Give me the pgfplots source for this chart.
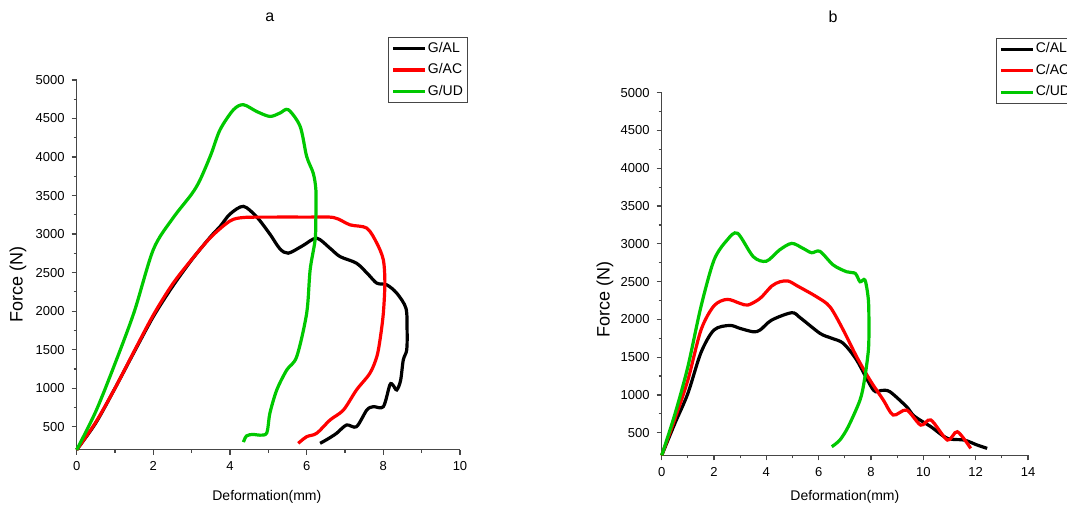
\documentclass[border=0pt]{standalone}
\usepackage{fontspec}
\setmainfont{Liberation Sans}
\usepackage{pgfplots}
\pgfplotsset{compat=1.18}
\definecolor{ogreen}{RGB}{0,200,0}
\definecolor{ored}{RGB}{255,0,0}
\definecolor{axgray}{RGB}{70,70,70}

\pgfplotsset{
  forceplot/.style={
    scale only axis,
    axis lines*=left,
    axis line style={axgray, line width=0.7pt},
    tick style={axgray, line width=0.6pt},
    tick align=outside,
    major tick length=2.5pt,
    minor tick length=1.5pt,
    minor x tick num=1,
    minor y tick num=1,
    ymin=200, ymax=5000,
    ytick={500,1000,...,5000},
    clip=false,
    tick label style={font=\fontsize{6.5}{7}\selectfont},
    /pgf/number format/assume math mode=true,
    /pgf/number format/1000 sep={},
    xlabel={Deformation(mm)},
    ylabel={Force (N)},
    xlabel style={font=\fontsize{7}{8}\selectfont, anchor=center},
    ylabel style={font=\fontsize{9}{10}\selectfont, anchor=center},
    title style={font=\fontsize{8}{9}\selectfont, anchor=center, yshift=-6pt},
    legend cell align=left,
    legend style={draw=axgray, line width=0.6pt, font=\fontsize{7}{8}\selectfont,
      anchor=north west, inner sep=1.5pt, row sep=3pt,
      nodes={inner sep=0.6pt}},
    legend image code/.code={\draw[#1, line width=1.6pt] (0pt,0pt) -- (16pt,0pt);},
    every axis plot/.append style={line width=1.6pt, smooth, tension=0.5, mark=none},
  }
}

\begin{document}
\begin{tikzpicture}
\useasboundingbox (0,0) rectangle (533.5pt,257pt);

% ---- panel a ----
\begin{axis}[forceplot,
  at={(38.35pt,32.1pt)}, anchor=south west,
  width=191.65pt, height=184.9pt,
  xmin=0, xmax=10, xtick={0,2,...,10},
  title={a}, title style={at={(axis description cs:0.504,1.17)}},
  xlabel style={at={(axis description cs:0.496,-0.128)}},
  ylabel style={at={(axis description cs:-0.153,0.446)}},
  legend style={at={(axis description cs:0.812,1.116)}}]
\addplot[black] coordinates {(0,200) (0.5,550) (1,1000) (1.5,1470) (2,1930) (2.5,2320) (3,2665) (3.5,2970) (3.74,3098) (4,3260) (4.35,3360) (4.7,3220) (5.04,3000) (5.3,2810) (5.52,2752) (5.9,2850) (6.26,2947) (6.6,2820) (6.87,2708) (7.3,2622) (7.6,2480) (7.83,2363) (8.09,2341) (8.35,2233) (8.59,2038) (8.62,1750) (8.61,1496) (8.52,1366) (8.45,1100) (8.35,977) (8.25,1040) (8.17,1042) (8.0,760) (7.74,760) (7.57,717) (7.3,500) (7.04,522) (6.78,414) (6.55,340) (6.35,284)};
\addplot[ored] coordinates {(0,200) (0.5,560) (1,1000) (1.5,1480) (2,1950) (2.5,2350) (3,2670) (3.5,2960) (4,3170) (4.35,3215) (5,3220) (6,3220) (6.7,3215) (7.13,3120) (7.57,3077) (7.83,2882) (8.0,2665) (8.04,2363) (8.0,1973) (7.92,1650) (7.83,1409) (7.65,1194) (7.3,977) (6.96,717) (6.61,587) (6.26,414) (6.0,370) (5.78,284)};
\addplot[ogreen] coordinates {(0,200) (0.5,700) (1,1320) (1.5,1990) (2,2800) (2.5,3200) (3,3520) (3.22,3705) (3.5,4030) (3.74,4354) (4.09,4614) (4.35,4679) (4.7,4590) (5.04,4527) (5.3,4570) (5.52,4614) (5.83,4397) (6.0,4007) (6.17,3792) (6.24,3575) (6.24,3228) (6.22,2925) (6.09,2535) (6.0,1973) (5.74,1409) (5.48,1236) (5.22,977) (5.04,674) (4.96,420) (4.78,390) (4.6,400) (4.43,380) (4.35,300)};
\legend{G/AL,G/AC,G/UD}
\end{axis}

% ---- panel b ----
\begin{axis}[forceplot,
  at={(330.85pt,29.3pt)}, anchor=south west,
  width=183.15pt, height=181.35pt,
  xmin=0, xmax=14, xtick={0,2,...,14},
  title={b}, title style={at={(axis description cs:0.468,1.209)}},
  xlabel style={at={(axis description cs:0.5,-0.115)}},
  ylabel style={at={(axis description cs:-0.155,0.43)}},
  legend style={at={(axis description cs:0.912,1.151)}}]
\addplot[black] coordinates {(0,200) (0.5,620) (1,1020) (1.5,1560) (2,1860) (2.6,1920) (3,1880) (3.5,1836) (3.76,1859) (4.2,1990) (4.97,2088) (5.3,2020) (6.05,1815) (6.5,1750) (6.94,1683) (7.45,1462) (8.09,1065) (8.4,1060) (8.72,1043) (9.36,844) (9.65,720) (10.29,579) (10.92,425) (11.56,403) (12.06,337) (12.44,293)};
\addplot[ored] coordinates {(0,200) (0.5,680) (1,1197) (1.5,1858) (2,2180) (2.5,2265) (3,2211) (3.3,2190) (3.76,2278) (4.2,2440) (4.52,2498) (4.84,2507) (5.2,2440) (5.92,2299) (6.43,2167) (6.94,1859) (7.45,1506) (7.96,1197) (8.47,933) (8.85,734) (9.36,800) (9.9,601) (10.29,668) (10.92,403) (11.3,513) (11.81,293)};
\addplot[ogreen] coordinates {(0,200) (0.5,740) (1,1373) (1.5,2167) (2,2785) (2.5,3050) (2.9,3139) (3.5,2830) (4,2770) (4.5,2918) (4.97,3006) (5.4,2940) (5.73,2882) (6.05,2900) (6.56,2719) (7.07,2630) (7.4,2608) (7.58,2498) (7.77,2520) (7.9,2256) (7.92,1900) (7.9,1594) (7.75,1200) (7.58,933) (7.13,580) (6.81,403) (6.5,315)};
\legend{C/AL,C/AC,C/UD}
\end{axis}
\end{tikzpicture}
\end{document}
